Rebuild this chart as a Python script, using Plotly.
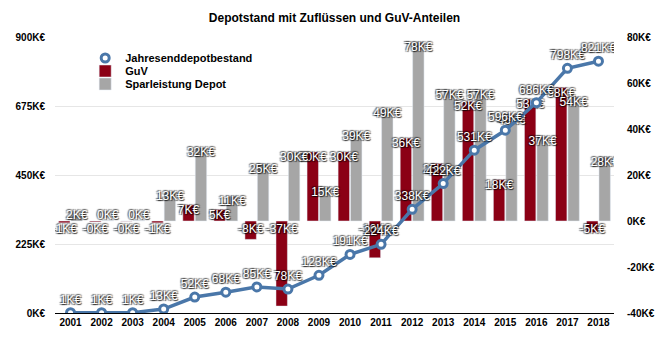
import plotly.graph_objects as go

# ---- data (values in thousands of €) ----
years = list(range(2001, 2019))
depot = [1, 1, 1, 13, 52, 68, 85, 78, 123, 191, 224, 338, 422, 531, 596, 686, 798, 821]
guv = [-0.8, -0.4, -0.1, -0.8, 7, 5, -8, -37, 30, 30, -16, 36, 25, 52, 18, 53, 58, -5]
spar = [2.4, 0.2, 0.2, 13, 32, 11, 25, 30, 15, 39, 49, 78, 57, 57, 46, 37, 54, 28]
left_ticks = [0, 225, 450, 675, 900]
right_ticks = [-40, -20, 0, 20, 40, 60, 80]

TITLE = "Depotstand mit Zuflüssen und GuV-Anteilen"
NAME_LINE = "Jahresenddepotbestand"
NAME_GUV = "GuV"
NAME_SPAR = "Sparleistung Depot"

RED = "#8b0015"
GRAY = "#a6a6a6"
BLUE = "#4a77a9"
FONT = "Liberation Sans, Arial, sans-serif"
SHADOW = ("1px 1px 1px rgba(0,0,0,0.75), -1px -1px 1px rgba(0,0,0,0.55), "
          "1px -1px 1px rgba(0,0,0,0.4), -1px 1px 1px rgba(0,0,0,0.4)")

MIN_LABEL = 5.0   # minimum label anchor for small positive bars
NEG_LABEL = -1.3  # label anchor for negative bars (just below zero)
OFF = 0.2         # label offset from category centre (fraction of category)


def label_y(v):
    if v >= MIN_LABEL:
        return v
    return MIN_LABEL if v >= 0 else NEG_LABEL


def fmt(v):
    return f"{v:.0f}K€"


fig = go.Figure()

fig.add_trace(go.Bar(x=years, y=guv, name=NAME_GUV, marker_color=RED,
                     yaxis="y", legend="legend2"))
fig.add_trace(go.Bar(x=years, y=spar, name=NAME_SPAR, marker_color=GRAY,
                     yaxis="y", legend="legend3"))

lab_font = dict(family=FONT, size=12, color="white", shadow=SHADOW)
fig.add_trace(go.Scatter(x=[y - OFF for y in years], y=[label_y(v) for v in guv],
                         text=[fmt(v) for v in guv], mode="text",
                         textposition="bottom center", textfont=lab_font,
                         yaxis="y", showlegend=False, hoverinfo="skip"))
fig.add_trace(go.Scatter(x=[y + OFF for y in years], y=[label_y(v) for v in spar],
                         text=[fmt(v) for v in spar], mode="text",
                         textposition="bottom center", textfont=lab_font,
                         yaxis="y", showlegend=False, hoverinfo="skip"))

fig.add_trace(go.Scatter(x=years, y=depot, mode="lines",
                         line=dict(color=BLUE, width=3.5),
                         yaxis="y2", showlegend=False, hoverinfo="skip"))
fig.add_trace(go.Scatter(x=years, y=depot, mode="markers+text", name=NAME_LINE,
                         marker=dict(size=8, color="white", line=dict(color=BLUE, width=3)),
                         text=[f"{v}K€" for v in depot], textposition="top center",
                         textfont=lab_font, yaxis="y2", legend="legend"))

legend_common = dict(font=dict(family=FONT, size=11, color="black", weight="bold"),
                     bgcolor="rgba(0,0,0,0)", xanchor="left", yanchor="middle",
                     x=0.054, itemwidth=30)

tick_font = dict(family=FONT, size=10, color="black", weight="bold")

fig.update_layout(
    width=660, height=355,
    margin=dict(l=55, r=46, t=37, b=42, autoexpand=False),
    paper_bgcolor="white", plot_bgcolor="white",
    title=dict(text=TITLE, x=0.5, xref="paper", y=1 - 18 / 355, yref="container",
               xanchor="center", yanchor="middle",
               font=dict(family=FONT, size=12, color="black", weight="bold")),
    barmode="group", bargap=0.2, bargroupgap=0.08,
    xaxis=dict(range=[2000.5, 2018.5], tickvals=years, showgrid=False,
               showline=True, linecolor="black", linewidth=1, ticks="",
               zeroline=False, automargin=False, tickfont=tick_font),
    yaxis=dict(side="right", range=[-40, 80], tickvals=right_ticks,
               ticktext=[f"{v}K€" for v in right_ticks],
               showgrid=False, zeroline=False, ticks="", ticklabelstandoff=12,
               automargin=False, tickfont=tick_font),
    yaxis2=dict(side="left", overlaying="y", range=[0, 900], tickvals=left_ticks,
                ticktext=[f"{v}K€" for v in left_ticks],
                showgrid=True, gridcolor="#e6e6e6", gridwidth=1,
                zeroline=False, ticks="", ticklabelstandoff=9,
                automargin=False, tickfont=tick_font),
    legend=dict(**legend_common, y=(313 - 58) / 276),
    legend2=dict(**legend_common, y=(313 - 71) / 276),
    legend3=dict(**legend_common, y=(313 - 84) / 276),
    showlegend=True,
)

fig.write_html("out.html",
               config={"displayModeBar": False},
               post_script="document.body.style.margin='0';document.body.style.padding='0';")
